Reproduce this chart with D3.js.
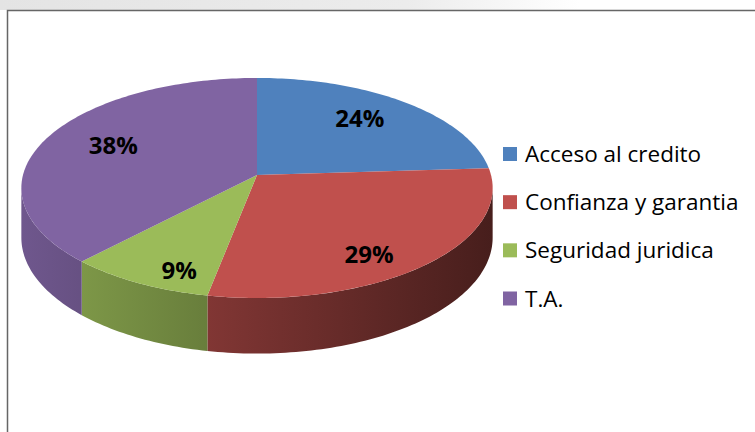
<!DOCTYPE html>
<html>
<head>
<meta charset="utf-8">
<script src="https://cdn.jsdelivr.net/npm/d3@7"></script>
<style>
  html, body { margin: 0; padding: 0; background: #fff; }
  svg { display: block; }
</style>
</head>
<body>
<div id="chart"></div>
<script>
const categories = ["Acceso al credito", "Confianza y garantia", "Seguridad juridica", "T.A."];
const values = [24, 29, 9, 38];
const colors = ["#4F81BD", "#C0504D", "#9BBB59", "#8064A2"];

const width = 755;
const height = 432;

const svg = d3.select("#chart")
    .append("svg")
    .attr("width", width)
    .attr("height", height);

const defs = svg.append("defs");

//faint watermark strip above the frame
const wm = defs.append("linearGradient").attr("id", "wm");
wm.append("stop").attr("offset", "0%").attr("stop-color", "#e4e4e4");
wm.append("stop").attr("offset", "70%").attr("stop-color", "#ececec");
wm.append("stop").attr("offset", "100%").attr("stop-color", "#ffffff");
svg.append("rect")
    .attr("x", 0).attr("y", 0)
    .attr("width", 580).attr("height", 10)
    .attr("fill", "url(#wm)");

//chart frame
svg.append("rect")
    .attr("x", 7.5).attr("y", 10.5)
    .attr("width", 800).attr("height", 450)
    .attr("fill", "#fff")
    .attr("stroke", "#666")
    .attr("stroke-width", 1.5);

//3d pie: disk points projected with a little perspective
const cx = 257, cy = 175, Rx = 234, Ry = 108.5, k = 0.118, depth = 49;

function proj(r, t) {
    const X = r * Math.cos(t), Z = r * Math.sin(t);
    const w = 1 - k * Z;
    return [cx + Rx * X / w, cy + Ry * Z / w];
}
function projBottom(t) {
    const p = proj(1, t);
    const w = 1 - k * Math.sin(t);
    return [p[0], p[1] + depth / w];
}

const pie = d3.pie().sort(null).value(d => d);
const arcs = pie(values).map((a, i) => ({
    ...a,
    i,
    t0: a.startAngle - Math.PI / 2,
    t1: a.endAngle - Math.PI / 2
}));

const line = d3.line();

function sample(t0, t1, f) {
    const n = Math.max(2, Math.ceil((t1 - t0) / 0.02));
    return d3.range(n + 1).map(j => f(t0 + (t1 - t0) * j / n));
}

//side walls, only the front arc is visible
const visA = Math.asin(k), visB = Math.PI - Math.asin(k);
const x0 = cx - Rx * 1.007, x1 = cx + Rx * 1.007;

arcs.forEach(a => {
    const base = d3.rgb(colors[a.i]);
    const g = defs.append("linearGradient")
        .attr("id", "side" + a.i)
        .attr("gradientUnits", "userSpaceOnUse")
        .attr("x1", x0).attr("x2", x1)
        .attr("y1", 0).attr("y2", 0);
    [0, 0.5, 1].forEach(p => {
        const f = 0.87 - 0.5 * p;
        g.append("stop")
            .attr("offset", p * 100 + "%")
            .attr("stop-color", d3.rgb(base.r * f, base.g * f, base.b * f).formatHex());
    });
});

const sides = svg.append("g");
arcs.forEach(a => {
    const s = Math.max(a.t0, visA), e = Math.min(a.t1, visB);
    if (e <= s) return;
    const top = sample(s, e, t => proj(1, t));
    const bottom = sample(s, e, projBottom).reverse();
    sides.append("path")
        .attr("d", line(top.concat(bottom)) + "Z")
        .attr("fill", `url(#side${a.i})`);
});

//top faces
svg.append("g")
    .selectAll("path")
    .data(arcs)
    .join("path")
    .attr("d", a => line([[cx, cy]].concat(sample(a.t0, a.t1, t => proj(1, t)))) + "Z")
    .attr("fill", a => colors[a.i]);

//percentage labels
svg.append("g")
    .selectAll("text")
    .data(arcs)
    .join("text")
    .attr("transform", a => {
        const t = (a.t0 + a.t1) / 2;
        const p = proj(0.68, t);
        const w = 1 - k * Math.sin(t);
        const dy = Math.sin(t) > 0 ? Math.sin(t) * (depth / 2) / w : Math.sin(t) * 8;
        return `translate(${p[0]},${p[1] + dy})`;
    })
    .attr("text-anchor", "middle")
    .attr("dy", "0.36em")
    .style("font-family", "'Open Sans', sans-serif")
    .style("font-weight", "bold")
    .style("font-size", "24px")
    .attr("fill", "#000")
    .text(a => a.data + "%");

//legend
const rowScale = d3.scalePoint()
    .domain(categories)
    .range([154, 298.5]);

const legend = svg.append("g")
    .selectAll("g")
    .data(categories)
    .join("g")
    .attr("transform", d => `translate(503, ${rowScale(d)})`);

legend.append("rect")
    .attr("x", 0).attr("y", -7)
    .attr("width", 14).attr("height", 14)
    .attr("fill", (d, i) => colors[i]);

legend.append("text")
    .attr("x", 22)
    .attr("dy", "0.36em")
    .style("font-family", "'Open Sans', sans-serif")
    .style("font-size", "22.5px")
    .attr("fill", "#000")
    .text(d => d);
</script>
</body>
</html>
